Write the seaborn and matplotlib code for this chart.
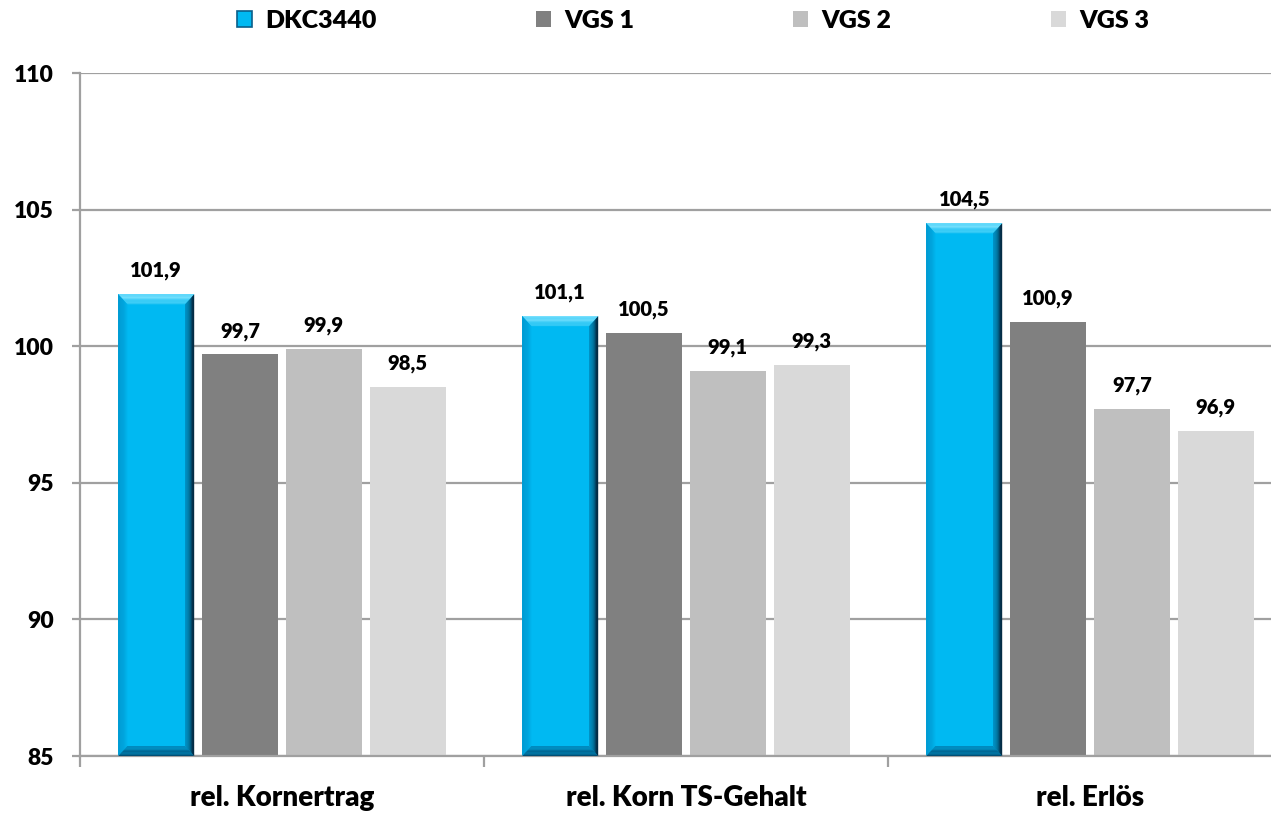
import matplotlib
matplotlib.use("Agg")
import matplotlib.pyplot as plt
import seaborn as sns
import pandas as pd
import numpy as np
from matplotlib.patches import Polygon, Patch
from matplotlib.colors import to_rgb

categories = ["rel. Kornertrag", "rel. Korn TS-Gehalt", "rel. Erlös"]
series = ["DKC3440", "VGS 1", "VGS 2", "VGS 3"]
dkc3440 = [101.9, 101.1, 104.5]
vgs1 = [99.7, 100.5, 100.9]
vgs2 = [99.9, 99.1, 97.7]
vgs3 = [98.5, 99.3, 96.9]
y_ticks = [85, 90, 95, 100, 105, 110]

colors = ["#00B9F2", "#808080", "#BFBFBF", "#D9D9D9"]

rows = []
for s, vals in zip(series, [dkc3440, vgs1, vgs2, vgs3]):
    for c, v in zip(categories, vals):
        rows.append({"Kategorie": c, "Sorte": s, "Wert": v})
df = pd.DataFrame(rows)

sns.set_theme(style="white")
plt.rcParams["font.family"] = ["Lato", "DejaVu Sans"]
W = "heavy"
plt.rcParams["font.weight"] = W
plt.rcParams["xtick.labelcolor"] = "black"
plt.rcParams["ytick.labelcolor"] = "black"
plt.rcParams["text.color"] = "black"

fig = plt.figure(figsize=(12.71, 8.13), dpi=100)
ax = fig.add_axes([80 / 1271, 57 / 813, 1212 / 1271, 683 / 813])

sns.barplot(data=df, x="Kategorie", y="Wert", hue="Sorte", order=categories,
            hue_order=series, palette=colors, width=0.83, gap=0.095,
            saturation=1, ax=ax, legend=False, edgecolor="none", linewidth=0)

ax.tick_params(axis="y", which="major", left=True, length=6, width=1.6,
               color="#A0A0A0", labelcolor="black", pad=13)
ax.tick_params(axis="x", which="major", length=0, labelcolor="black", pad=21)
ax.set_ylim(85, 110)
ax.set_xlim(-0.5, 2.5)
ax.set_yticks(y_ticks, labels=[str(t) for t in y_ticks], fontweight=W,
              fontsize=16.5, color="black")
ax.set_xticks(range(len(categories)), labels=categories, fontweight=W,
              fontsize=20, color="black")
ax.set_xticks([-0.5, 0.5, 1.5, 2.5], minor=True)
ax.tick_params(axis="x", which="minor", bottom=True, length=8, width=1.6,
               color="#A0A0A0")
ax.yaxis.grid(True, color="#A0A0A0", linewidth=1.6)
ax.set_axisbelow(True)
ax.set_xlabel("")
ax.set_ylabel("")
for side in ["top", "right"]:
    ax.spines[side].set_visible(False)
for side in ["left", "bottom"]:
    ax.spines[side].set_color("#A0A0A0")
    ax.spines[side].set_linewidth(1.6)

# data labels
for container in ax.containers:
    labels = [f"{b.get_height():.1f}".replace(".", ",") for b in container]
    ax.bar_label(container, labels=labels, padding=10, fontsize=14.5,
                 fontweight=W, color="black")

# bevel on DKC3440 bars
fig.canvas.draw()
px_x = ax.transData.transform((1, 0))[0] - ax.transData.transform((0, 0))[0]
px_y = ax.transData.transform((0, 1))[1] - ax.transData.transform((0, 0))[1]
dx = 9 / px_x
dy = 10 / px_y
ybot = ax.get_ylim()[0]


def blend(c1, c2, t):
    a = np.array(to_rgb(c1))
    b = np.array(to_rgb(c2))
    return tuple(a + (b - a) * t)


n = 8
for bar in ax.containers[0]:
    x0 = bar.get_x()
    x1 = x0 + bar.get_width()
    y1 = bar.get_height()
    y0 = max(bar.get_y(), ybot)
    for i in range(n):
        t0, t1 = i / n, (i + 1) / n
        # top
        ax.add_patch(Polygon([(x0 + dx * t0, y1 - dy * t0), (x1 - dx * t0, y1 - dy * t0),
                              (x1 - dx * t1, y1 - dy * t1), (x0 + dx * t1, y1 - dy * t1)],
                             closed=True, color=blend("#8AE6FF", "#22C4F4", t0), lw=0, zorder=3))
        # left
        ax.add_patch(Polygon([(x0 + dx * t0, y0 + dy * t0), (x0 + dx * t0, y1 - dy * t0),
                              (x0 + dx * t1, y1 - dy * t1), (x0 + dx * t1, y0 + dy * t1)],
                             closed=True, color=blend("#0090C8", "#00B6EF", t0), lw=0, zorder=3))
        # bottom
        ax.add_patch(Polygon([(x0 + dx * t0, y0 + dy * t0), (x1 - dx * t0, y0 + dy * t0),
                              (x1 - dx * t1, y0 + dy * t1), (x0 + dx * t1, y0 + dy * t1)],
                             closed=True, color=blend("#004E75", "#0092C8", t0), lw=0, zorder=3))
        # right
        ax.add_patch(Polygon([(x1 - dx * t0, y1 - dy * t0), (x1 - dx * t0, y0 + dy * t0),
                              (x1 - dx * t1, y0 + dy * t1), (x1 - dx * t1, y1 - dy * t1)],
                             closed=True, color=blend("#04233A", "#0096CC", t0), lw=0, zorder=3))

# legend
handles = [Patch(facecolor=c, edgecolor="none") for c in colors]
handles[0] = Patch(facecolor=colors[0], edgecolor="#0A5F8A", linewidth=1.2)
leg = fig.legend(handles, series, loc="center", bbox_to_anchor=(693 / 1271, 1 - 21 / 813),
                 ncol=4, frameon=False, fontsize=18, handlelength=0.6,
                 handleheight=0.6, handletextpad=0.55, columnspacing=6.35,
                 labelcolor="black")
for t in leg.get_texts():
    t.set_fontweight(W)

fig.savefig("out.png", dpi=100)
